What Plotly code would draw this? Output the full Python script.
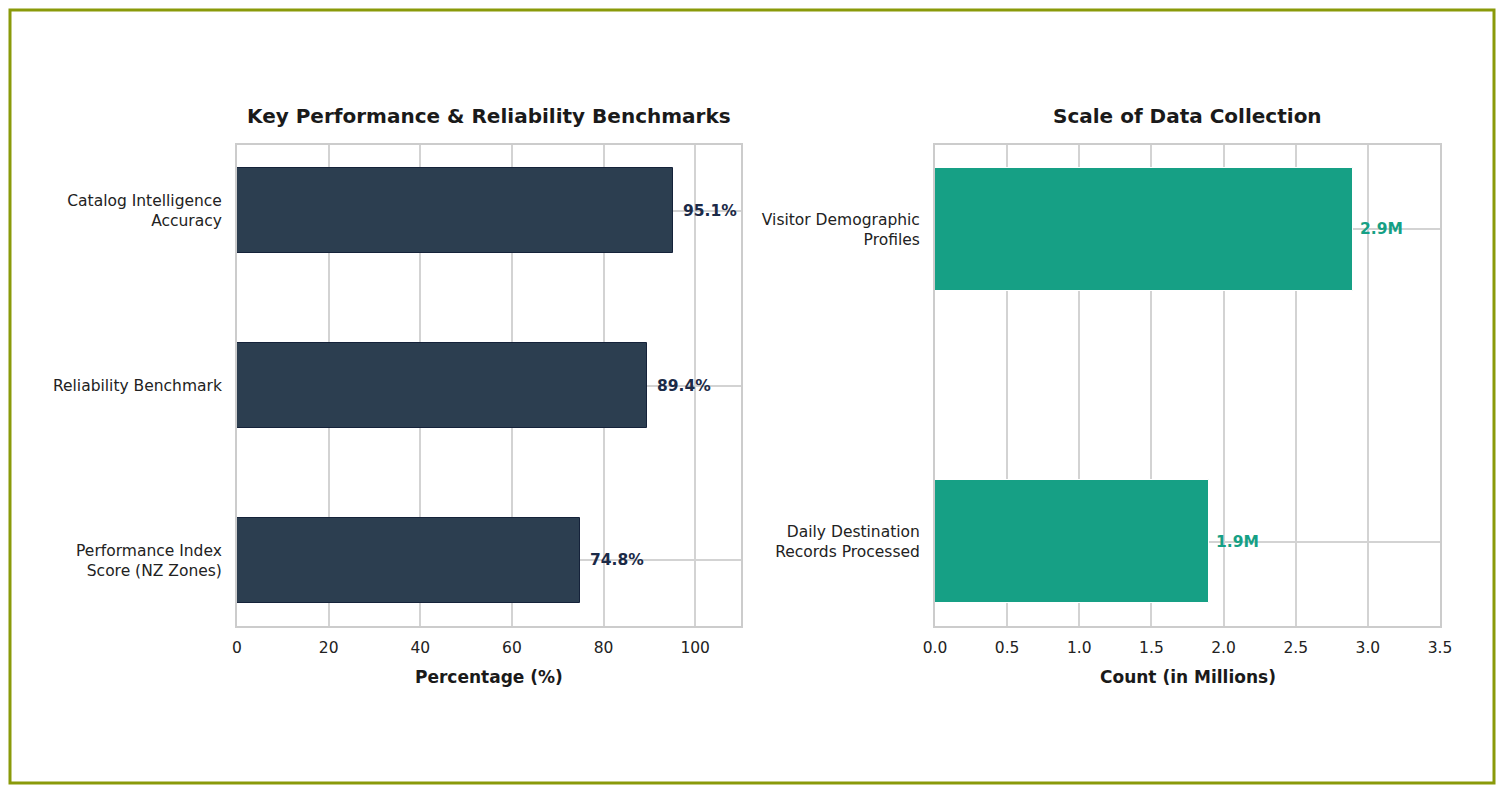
import plotly.graph_objects as go

W, H = 1503, 793

# Data
left_categories = ["Performance Index<br>Score (NZ Zones)", "Reliability Benchmark", "Catalog Intelligence<br>Accuracy"]
left_values = [74.8, 89.4, 95.1]
left_labels = ["74.8%", "89.4%", "95.1%"]
left_ticks = [0, 20, 40, 60, 80, 100]

right_categories = ["Daily Destination<br>Records Processed", "Visitor Demographic<br>Profiles"]
right_values = [1.9, 2.9]
right_labels = ["1.9M", "2.9M"]
right_ticks = [0.0, 0.5, 1.0, 1.5, 2.0, 2.5, 3.0, 3.5]

FONT = "DejaVu Sans"
NAVY = "#2C3E50"
TEAL = "#16A085"
GRID = "#D3D3D3"
TXT = "#222222"

def px_x(p):
    return p / W

def px_y(p):
    return 1 - p / H

fig = go.Figure()
fig.add_trace(go.Bar(
    x=left_values, y=left_categories, orientation="h", width=0.49,
    marker=dict(color=NAVY, line=dict(color="#15223A", width=1)),
    xaxis="x", yaxis="y", showlegend=False, hoverinfo="skip"))
fig.add_trace(go.Bar(
    x=right_values, y=right_categories, orientation="h", width=0.395,
    marker=dict(color=TEAL, line=dict(color="#FFFFFF", width=1)),
    xaxis="x2", yaxis="y2", showlegend=False, hoverinfo="skip"))

annotations = []
for v, c, t in zip(left_values, left_categories, left_labels):
    annotations.append(dict(x=v, y=c, xref="x", yref="y", text="<b>" + t + "</b>",
                            showarrow=False, xanchor="left", yanchor="middle", xshift=8,
                            font=dict(family=FONT, size=15.5, color="#1B2A47")))
for v, c, t in zip(right_values, right_categories, right_labels):
    annotations.append(dict(x=v, y=c, xref="x2", yref="y2", text="<b>" + t + "</b>",
                            showarrow=False, xanchor="left", yanchor="middle", xshift=5,
                            font=dict(family=FONT, size=15.5, color=TEAL)))

# Titles
annotations.append(dict(x=(px_x(237) + px_x(741)) / 2, y=px_y(116), xref="paper", yref="paper",
                        text="<b>Key Performance & Reliability Benchmarks</b>", showarrow=False,
                        xanchor="center", yanchor="middle",
                        font=dict(family=FONT, size=20, color="#1a1a1a")))
annotations.append(dict(x=(px_x(935) + px_x(1440)) / 2, y=px_y(116), xref="paper", yref="paper",
                        text="<b>Scale of Data Collection</b>", showarrow=False,
                        xanchor="center", yanchor="middle",
                        font=dict(family=FONT, size=20, color="#1a1a1a")))
# Axis titles
annotations.append(dict(x=(px_x(237) + px_x(741)) / 2, y=px_y(677), xref="paper", yref="paper",
                        text="<b>Percentage (%)</b>", showarrow=False,
                        xanchor="center", yanchor="middle",
                        font=dict(family=FONT, size=17, color="#1a1a1a")))
annotations.append(dict(x=(px_x(935) + px_x(1440)) / 2, y=px_y(677), xref="paper", yref="paper",
                        text="<b>Count (in Millions)</b>", showarrow=False,
                        xanchor="center", yanchor="middle",
                        font=dict(family=FONT, size=17, color="#1a1a1a")))

axis_common = dict(showline=True, mirror=True, linecolor="#CCCCCC", linewidth=2,
                   showgrid=True, gridcolor=GRID, gridwidth=1.5, zeroline=False,
                   automargin=False, ticks="")
xtickfont = dict(family=FONT, size=15.5, color=TXT)
ytickfont = dict(family=FONT, size=15.5, color=TXT)

fig.update_layout(
    width=W, height=H,
    margin=dict(l=0, r=0, t=0, b=0),
    paper_bgcolor="white", plot_bgcolor="white",
    template="none",
    font=dict(family=FONT, color=TXT),
    bargap=0,
    xaxis=dict(domain=[px_x(237), px_x(741)], range=[0, 110], tickvals=left_ticks,
               anchor="y", ticklabelstandoff=6, tickfont=xtickfont, **axis_common),
    yaxis=dict(domain=[px_y(626), px_y(145)], range=[-0.375, 2.375], type="category",
               categoryorder="array", categoryarray=left_categories,
               anchor="x", ticklabelstandoff=10, tickfont=ytickfont, **axis_common),
    xaxis2=dict(domain=[px_x(935), px_x(1440)], range=[0, 3.5], tickvals=right_ticks,
                tickformat=".1f", anchor="y2", ticklabelstandoff=6, tickfont=xtickfont, **axis_common),
    yaxis2=dict(domain=[px_y(626), px_y(145)], range=[-0.27, 1.27], type="category",
                categoryorder="array", categoryarray=right_categories,
                anchor="x2", ticklabelstandoff=10, tickfont=ytickfont, **axis_common),
    annotations=annotations,
    shapes=[dict(type="rect", xref="paper", yref="paper",
                 x0=px_x(10), x1=px_x(1494), y0=px_y(783), y1=px_y(10),
                 line=dict(color="#8A9A0A", width=3), fillcolor="rgba(0,0,0,0)", layer="above")],
)

fig.write_html("out.html")
